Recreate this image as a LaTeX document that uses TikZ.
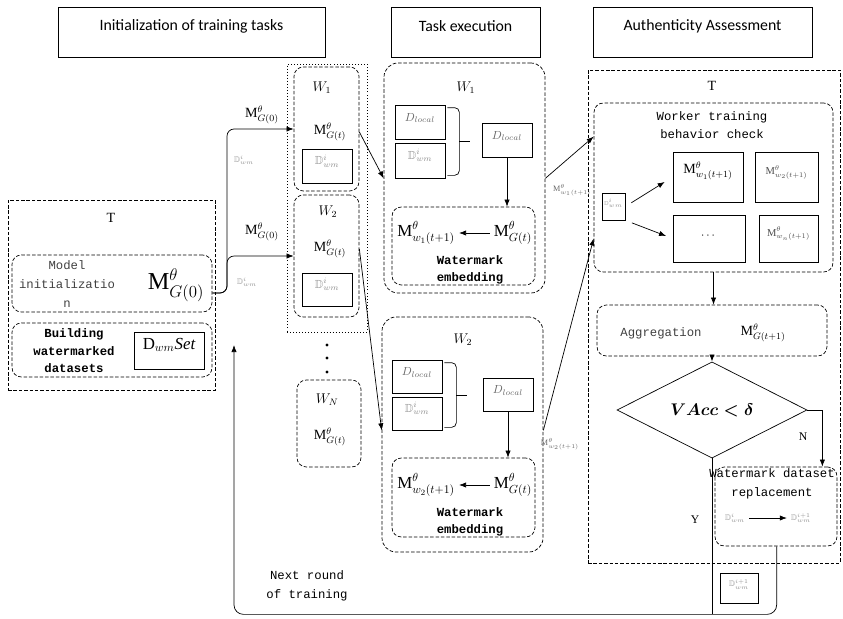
\documentclass[tikz,border=0pt]{standalone}
\usepackage{amsmath,amssymb}
\usepackage{xcolor}
\usepackage{fontspec}
\setmainfont{Liberation Serif}
\setmonofont{Liberation Mono}
\newfontfamily\headfont{Carlito}
\usetikzlibrary{arrows.meta,positioning,calc,shapes.geometric,fit}
\newcommand{\Mt}[1]{\text{M}^{\theta}_{#1}}
\newcommand{\Dw}[1]{\textcolor{black!45}{$\mathbb{D}^{#1}_{wm}$}}
\newcommand{\Dl}{\textcolor{black!60}{$D_{local}$}}

\begin{document}
\begin{tikzpicture}[x=0.03cm,y=-0.03cm,>={Latex[length=6pt,width=4.5pt]},
  every path/.style={line width=0.6pt},
  hd/.style={draw,inner sep=0,font=\headfont\fontsize{13.5}{16}\selectfont},
  grp/.style={draw,dash pattern=on 3pt off 1.6pt,rounded corners=8pt,inner sep=0},
  area/.style={draw,dash pattern=on 3pt off 1.6pt,inner sep=0},
  bx/.style={draw,inner sep=0},
  lbl/.style={font=\ttfamily\fontsize{10.5}{16}\selectfont,align=center},
  lblb/.style={font=\ttfamily\bfseries\fontsize{10.5}{15}\selectfont,align=center},
  mm/.style={font=\large},
  gd/.style={font=\scriptsize}]
  \useasboundingbox (0,0) rectangle (843,618);
  \node[hd,fit={(58,7) (325,57)}](h1){Initialization of training tasks};
  \node[hd,fit={(391,7) (540,57)}](h2){Task execution};
  \node[hd,fit={(593,7) (812,57)}](h3){Authenticity Assessment};

  \node[area,fit={(8,200) (215,390)}](tl){};
  \node[font=\large](tlT) at (111,218){T};
  \node[grp,fit={(12,255) (212,312)}](minit){};
  \node[lbl,text=black!75](minitt) at (67,284){Model\\initializatio\\n};
  \node[font=\huge](m0) at (176,285){$\Mt{G(0)}$};
  \node[grp,fit={(12,323) (212,377)}](build){};
  \node[lblb](buildt) at (74,351){Building\\watermarked\\datasets};
  \node[bx,fit={(134,332) (204,369)},font=\Large](dset){$\text{D}_{wm}\mathit{Set}$};

  \node[draw,dotted,inner sep=0,fit={(287,64) (367,332)}](wgrp){};
  \node[grp,fit={(294,67) (359,191)}](w1c){};
  \node[font=\large](w1cl) at (322,88){$W_1$};
  \node[mm](w1cm) at (330,132){$\Mt{G(t)}$};
  \node[bx,fit={(302,149) (352,183)}](w1cd){\Dw{i}};
  \node[grp,fit={(294,195) (359,317)}](w2c){};
  \node[font=\large](w2cl) at (328,212){$W_2$};
  \node[mm](w2cm) at (330,249){$\Mt{G(t)}$};
  \node[bx,fit={(302,273) (352,306)}](w2cd){\Dw{i}};
  \foreach \y in {345,358,372} \fill (327,\y) circle (1.3pt);
  \node[grp,fit={(297,380) (361,467)}](wnc){};
  \node[font=\large](wncl) at (327,400){$W_N$};
  \node[mm](wncm) at (330,437){$\Mt{G(t)}$};

  \coordinate (fork) at (227,293);
  \draw[->,rounded corners=6pt] (minit.east|-fork) -- (fork) |- (w1c.west);
  \draw[->,rounded corners=6pt] (minit.east|-fork) -- (fork) |- (w2c.west);
  \node[mm](g01) at (262,115){$\Mt{G(0)}$};
  \node[gd](dg1) at (244,160){\Dw{i}};
  \node[mm](g02) at (262,232){$\Mt{G(0)}$};
  \node[gd](dg2) at (247,282){\Dw{i}};

  \node[grp,rounded corners=12pt,fit={(384,63) (545,293)}](t1){};
  \node[font=\large](t1l) at (466,88){$W_1$};
  \node[bx,fit={(395,105) (445,139)}](t1a){\Dl};
  \node[bx,fit={(395,143) (445,178)}](t1b){\Dw{i}};
  \draw[rounded corners=4pt] ($(t1a.north east)+(2,3)$) -| ($(t1b.south east)+(14,-3)$) -- ($(t1b.south east)+(2,-3)$);
  \draw ($(t1a.south east)!0.5!(t1b.north east)+(14,0)$) -- ++(11,0);
  \node[bx,fit={(482,123) (532,157)}](t1c){\Dl};
  \node[grp,fit={(392,207) (535,285)}](t1e){};
  \draw[->] (t1c) -- (t1c|-t1e.north);
  \node[font=\Large,anchor=west](t1w) at (393,233){$\Mt{w_1(t+1)}$};
  \node[font=\Large](t1g) at (513,233){$\Mt{G(t)}$};
  \draw[->] (t1g) -- (t1w);
  \node[lblb](t1et) at (470,270){Watermark\\embedding};

  \node[grp,rounded corners=12pt,fit={(382,317) (543,552)}](t2){};
  \node[font=\large](t2l) at (463,340){$W_2$};
  \node[bx,fit={(392,360) (442,393)}](t2a){\Dl};
  \node[bx,fit={(392,397) (442,430)}](t2b){\Dw{i}};
  \draw[rounded corners=4pt] ($(t2a.north east)+(2,3)$) -| ($(t2b.south east)+(14,-3)$) -- ($(t2b.south east)+(2,-3)$);
  \draw ($(t2a.south east)!0.5!(t2b.north east)+(14,0)$) -- ++(11,0);
  \node[bx,fit={(483,378) (533,411)}](t2c){\Dl};
  \node[grp,fit={(392,458) (535,537)}](t2e){};
  \draw[->] (t2c) -- (t2c|-t2e.north);
  \node[font=\Large,anchor=west](t2w) at (393,485){$\Mt{w_2(t+1)}$};
  \node[font=\Large](t2g) at (513,485){$\Mt{G(t)}$};
  \draw[->] (t2g) -- (t2w);
  \node[lblb](t2et) at (470,522){Watermark\\embedding};

  \draw[->] (w1c.east|-w1cm) -- (t1.west|-t1b.south);
  \draw[->] (w2c.east|-w2cm) -- (t2.west|-t2b.south);

  \node[area,fit={(588,70) (840,563)}](ta){};
  \node[font=\large](taT) at (712,86){T};
  \node[grp,fit={(594,103) (833,272)}](chk){};
  \node[lbl](chkt) at (712,125){Worker training\\behavior check};
  \node[bx,fit={(602,193) (625,220)},font=\tiny](chkd){\Dw{i}};
  \node[bx,fit={(673,152) (743,202)},font=\large](mc1){$\Mt{w_1(t+1)}$};
  \node[bx,fit={(755,152) (818,202)},text=black!70,font=\small](mc2){$\Mt{w_2(t+1)}$};
  \node[bx,fit={(673,215) (745,262)}](mcd){$\cdots$};
  \node[bx,fit={(759,215) (818,262)},text=black!70,font=\small](mcn){$\Mt{w_n(t+1)}$};
  \draw[->,shorten <=6pt,shorten >=8pt] (chkd.east) -- (mc1.west);
  \draw[->,shorten <=6pt,shorten >=6pt] (chkd.south east) -- (mcd.west);

  \draw[->] (t1.east|-t1b.south) -- ($(chk.north west)+(0,34)$);
  \draw[->] (t2.east|-t2b.south) -- (chk.west|-mcd);
  \node[gd,text=black!60](lw1) at (572,190){$\Mt{w_1(t+1)}$};
  \node[gd,text=black!60](lw2) at (560,444){$\Mt{w_2(t+1)}$};

  \node[grp,fit={(597,305) (827,356)}](agg){};
  \node[lbl,text=black!75](aggt) at (661,333){Aggregation};
  \node[font=\large](aggm) at (763,333){$\Mt{G(t+1)}$};
  \draw[->] (chk.south) -- (chk.south|-agg.north);
  \node[draw,diamond,minimum width=5.7cm,minimum height=1.65cm,inner sep=0,font=\Large](dec) at (712,410){$\boldsymbol{VAcc<\delta}$};
  \draw[->] (agg.south-|dec) -- (dec.north);

  \node[grp,fit={(715,467) (837,546)}](rep){};
  \node[lbl](rept) at (772,484){Watermark dataset\\replacement};
  \node[gd](repa) at (735,518){\Dw{i}};
  \node[gd](repb) at (801,518){\Dw{i+1}};
  \draw[->] (repa) -- (repb);
  \draw[->] (dec.east) -| ($(rep.north east)+(-15,0)$);
  \node(nl) at (803,437){N};

  \coordinate (nxt) at (234,345);
  \coordinate (bk) at ($(rep.south west)+(62,68)$);
  \draw[->,rounded corners=8pt] ($(rep.south west)+(62,0)$) -- (bk) -| (nxt);
  \draw (dec.south) -- (dec.south|-bk);
  \node(yl) at (695,520){Y};
  \node[bx,fit={(720,573) (758,603)},font=\scriptsize](nd){\Dw{i+1}};
  \node[lbl](nxtt) at (307,586){Next round\\of training};
\end{tikzpicture}
\end{document}
